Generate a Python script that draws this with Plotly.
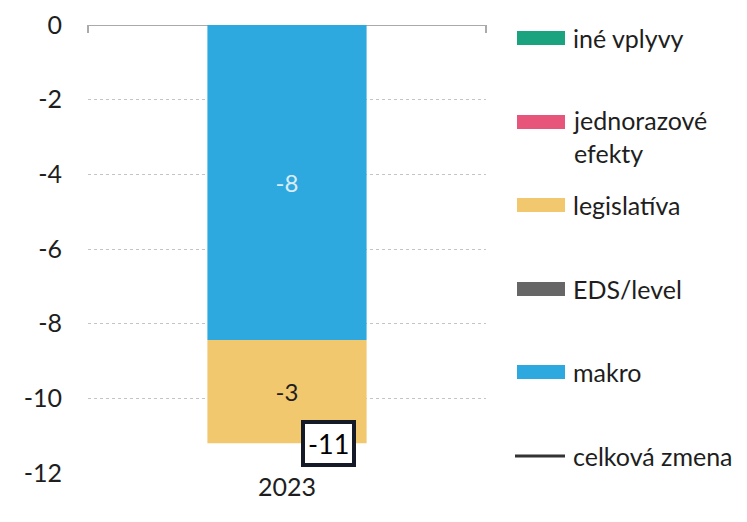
import plotly.graph_objects as go

# ---- data ----
categories = ["2023"]
ine_vplyvy = [0.0]
jednorazove_efekty = [0.0]
legislativa = [-2.76]
eds_level = [0.0]
makro = [-8.44]
celkova_zmena = [-11.2]

y_ticks = [0, -2, -4, -6, -8, -10, -12]

legend_names = ["iné vplyvy", "jednorazové<br>efekty", "legislatíva", "EDS/level", "makro", "celková zmena"]
legend_colors = ["#1ba37f", "#e8557a", "#f2c86e", "#666666", "#2ea9df", "#333333"]
legend_kinds = ["bar", "bar", "bar", "bar", "bar", "line"]

FONT = "Lato, Calibri, sans-serif"
FS = 25
TXT = "#1e1e1e"

W, H = 747, 522
OFF = 8  # page body margin
ML, MT = 88 - OFF, 25 - OFF
PW, PH = 398, 448
MR, MB = W - ML - PW, H - MT - PH


def px_x(px):
    return (px - OFF - ML) / PW


def px_y(py):
    return 1 - (py - OFF - MT) / PH


fig = go.Figure()

bar_series = [
    ("iné vplyvy", ine_vplyvy, legend_colors[0], "rgba(0,0,0,0)"),
    ("jednorazové efekty", jednorazove_efekty, legend_colors[1], "rgba(0,0,0,0)"),
    ("makro", makro, legend_colors[4], "#dcecf6"),
    ("legislatíva", legislativa, legend_colors[2], TXT),
    ("EDS/level", eds_level, legend_colors[3], "rgba(0,0,0,0)"),
]
for name, vals, col, tcol in bar_series:
    show_text = any(abs(v) > 0 for v in vals)
    fig.add_trace(go.Bar(
        x=categories, y=vals, name=name, marker=dict(color=col, line=dict(width=0)),
        texttemplate="%{y:.0f}" if show_text else None,
        textposition="inside" if show_text else "none",
        insidetextanchor="middle",
        textfont=dict(color=tcol, size=FS - 1, family=FONT),
        showlegend=False,
    ))

fig.add_trace(go.Scatter(
    x=categories, y=celkova_zmena, mode="lines", name="celková zmena",
    line=dict(color="#333333", width=3), showlegend=False,
))

# total label
for i, v in enumerate(celkova_zmena):
    fig.add_annotation(
        x=i, y=v, xref="x", yref="y", text=f"{v:.0f}", showarrow=False,
        xshift=41, font=dict(size=27, color="#000000", family=FONT),
        bgcolor="white", bordercolor="#141a28", borderwidth=4, borderpad=3,
    )

# top axis line at zero with boundary ticks
fig.add_shape(type="line", xref="x domain", yref="y", x0=0, x1=1, y0=0, y1=0,
              line=dict(color="#aaaaaa", width=2), layer="below")
for xd in (0, 1):
    fig.add_shape(type="line", xref="x domain", yref="y domain", x0=xd, x1=xd, y0=1, y1=0.982,
                  line=dict(color="#aaaaaa", width=2), layer="below")

# custom legend
leg_x0, leg_x1 = 517, 565
leg_y = [38, 122, 205, 289, 372, 456]
for name, col, kind, yy in zip(legend_names, legend_colors, legend_kinds, leg_y):
    yp = px_y(yy)
    if kind == "bar":
        fig.add_shape(type="rect", xref="paper", yref="paper",
                      x0=px_x(leg_x0), x1=px_x(leg_x1), y0=px_y(yy - 7), y1=px_y(yy + 7),
                      fillcolor=col, line=dict(width=0))
    else:
        fig.add_shape(type="line", xref="paper", yref="paper",
                      x0=px_x(leg_x0 - 2), x1=px_x(leg_x1), y0=yp, y1=yp,
                      line=dict(color=col, width=3))
    nlines = name.count("<br>") + 1
    fig.add_annotation(
        xref="paper", yref="paper", x=px_x(571), y=yp, text=name, showarrow=False,
        xanchor="left", yanchor="top" if nlines > 1 else "middle",
        yshift=19 if nlines > 1 else 0,
        align="left", font=dict(size=FS, color=TXT, family=FONT),
    )

fig.update_layout(
    width=W, height=H,
    margin=dict(l=ML, r=MR, t=MT, b=MB, autoexpand=False),
    barmode="relative", bargap=0.6,
    plot_bgcolor="white", paper_bgcolor="white",
    font=dict(family=FONT, size=FS, color=TXT),
    showlegend=False,
    xaxis=dict(type="category", showline=False, showgrid=False, ticks="",
               tickfont=dict(size=FS, color=TXT), automargin=False,
               ticklabelstandoff=-3, range=[-0.5, 0.5]),
    yaxis=dict(range=[-12, 0], tickvals=y_ticks, ticktext=[str(t) for t in y_ticks],
               showgrid=True, gridcolor="#c4c4c4", griddash="dot", gridwidth=1,
               zeroline=False, showline=False, ticks="", ticklabelstandoff=25,
               automargin=False, tickfont=dict(size=FS, color=TXT)),
)

fig.write_html("out.html")
